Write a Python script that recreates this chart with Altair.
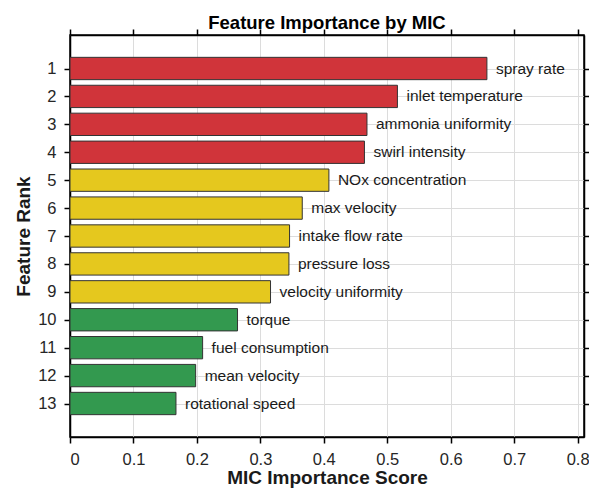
import altair as alt
import pandas as pd

# Feature ranking by maximal information coefficient (MIC)
ranks = list(range(1, 14))
features = [
    "spray rate", "inlet temperature", "ammonia uniformity", "swirl intensity",
    "NOx concentration", "max velocity", "intake flow rate", "pressure loss",
    "velocity uniformity", "torque", "fuel consumption", "mean velocity",
    "rotational speed",
]
scores = [0.657, 0.516, 0.468, 0.464, 0.408, 0.366, 0.346, 0.345,
          0.316, 0.264, 0.209, 0.198, 0.167]
tiers = ["high"] * 4 + ["mid"] * 5 + ["low"] * 4
tier_names = ["high", "mid", "low"]
tier_colors = ["#D0343A", "#E5C81E", "#33994F"]
x_ticks = [0, 0.1, 0.2, 0.3, 0.4, 0.5, 0.6, 0.7, 0.8]

df = pd.DataFrame({"rank": ranks, "feature": features, "score": scores, "tier": tiers})

FONT = "Liberation Sans"
x_scale = alt.Scale(domain=[0, 0.81], nice=False, zero=False)
y_scale = alt.Scale(domain=[-0.2, 14.2], nice=False, zero=False, reverse=True)

base = alt.Chart(df).transform_calculate(
    y0="datum.rank - 0.4", y1="datum.rank + 0.4"
)

bars = base.mark_bar(stroke="#333333", strokeWidth=1).encode(
    x=alt.X("score:Q", scale=x_scale,
            axis=alt.Axis(title="MIC Importance Score", values=x_ticks, format=".1~f",
                          orient="bottom", grid=True)),
    y=alt.Y("y0:Q", scale=y_scale,
            axis=alt.Axis(title="Feature Rank", values=ranks, format="d",
                          orient="left", grid=True)),
    y2="y1:Q",
    x2=alt.datum(0),
    color=alt.Color("tier:N", scale=alt.Scale(domain=tier_names, range=tier_colors), legend=None),
)

labels = base.mark_text(align="left", baseline="middle", dx=9, fontSize=15.5,
                        font=FONT, color="#1a1a1a").encode(
    x=alt.X("score:Q", scale=x_scale,
            axis=alt.Axis(title=None, values=x_ticks, labels=False, orient="top", grid=False)),
    y=alt.Y("rank:Q", scale=y_scale,
            axis=alt.Axis(title=None, values=ranks, labels=False, orient="right", grid=False)),
    text="feature:N",
)

chart = alt.layer(bars, labels).resolve_axis(x="independent", y="independent").properties(
    width=514,
    height=402,
    title=alt.TitleParams("Feature Importance by MIC", fontSize=18.5, fontWeight="bold",
                          font=FONT, color="#000000", offset=-4),
    autosize=alt.AutoSizeParams(type="none"),
    padding={"left": 70, "top": 35, "right": 5, "bottom": 57},
).configure_view(
    stroke="#000000", strokeWidth=1.5
).configure_axis(
    domainColor="#000000", domainWidth=1.5,
    tickColor="#000000", tickWidth=1.5, tickSize=6,
    gridColor="#dcdcdc", gridWidth=1,
    labelFont=FONT, labelFontSize=16.5, labelColor="#262626", labelPadding=8,
    titleFont=FONT, titleFontSize=19, titleFontWeight="bold", titleColor="#1a1a1a",
).configure_axisBottom(
    titlePadding=1, labelPadding=8
).configure_axisLeft(
    titlePadding=4
)

chart.save("out.html", embed_options={"renderer": "svg", "actions": False})
